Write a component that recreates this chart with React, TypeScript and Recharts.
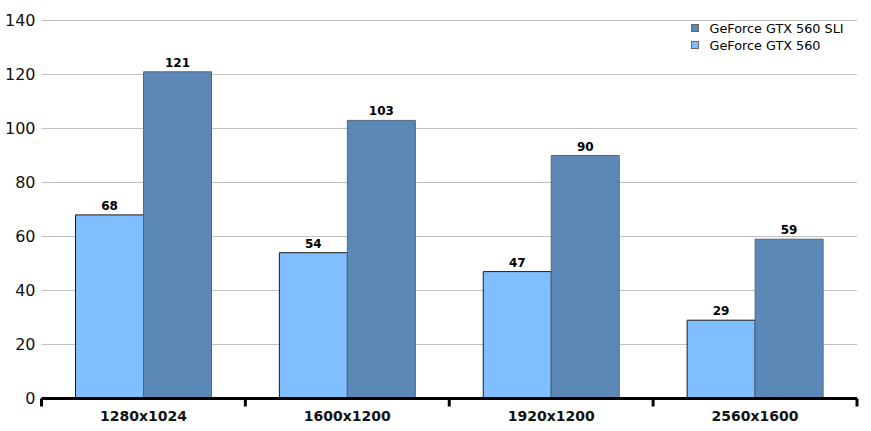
import { Bar, BarChart, CartesianGrid, LabelList, Legend, XAxis, YAxis } from 'recharts';

const categories = ['1280x1024', '1600x1200', '1920x1200', '2560x1600'];
const gtx560 = [68, 54, 47, 29];
const gtx560Sli = [121, 103, 90, 59];
const yTicks = [0, 20, 40, 60, 80, 100, 120, 140];

const FONT = '"DejaVu Sans", Verdana, sans-serif';
const LIGHT = '#80bfff';
const DARK = '#5b88b6';

const data = categories.map((name, i) => ({
  name,
  single: gtx560[i],
  sli: gtx560Sli[i],
}));

function ResolutionTick(props: any) {
  const { x, y, payload, width, visibleTicksCount, index } = props;
  const half = width / (2 * visibleTicksCount);
  const isLast = index === visibleTicksCount - 1;
  return (
    <g>
      <line x1={x - half} x2={x - half} y1={y} y2={y + 8} stroke="#000" strokeWidth={3} />
      {isLast && (
        <line x1={x + half} x2={x + half} y1={y} y2={y + 8} stroke="#000" strokeWidth={3} />
      )}
      <text
        x={x}
        y={y + 22}
        textAnchor="middle"
        fontFamily={FONT}
        fontSize={14}
        fontWeight="bold"
        fill="#111"
      >
        {payload.value}
      </text>
    </g>
  );
}

function SeriesLegend({ payload }: any) {
  const items = [...(payload || [])].reverse();
  return (
    <div style={{ fontFamily: FONT, fontSize: 12.8, color: '#000' }}>
      {items.map((item: any) => (
        <div key={item.value} style={{ display: 'flex', alignItems: 'center', height: 17 }}>
          <span
            style={{
              display: 'inline-block',
              width: 6,
              height: 6,
              marginRight: 11,
              background: item.color,
              border: '1px solid #666',
            }}
          />
          <span>{item.value}</span>
        </div>
      ))}
    </div>
  );
}

export default function App() {
  return (
    <div style={{ position: 'absolute', left: 0, top: 0, background: '#fff' }}>
      <BarChart
        width={871}
        height={431}
        data={data}
        barCategoryGap="16.67%"
        barGap={0}
        margin={{ top: 20.5, right: 14, bottom: 0.5, left: 0 }}
      >
        <CartesianGrid vertical={false} stroke="#c0c0c0" />
        <XAxis
          dataKey="name"
          height={32}
          tickLine={false}
          tickSize={0}
          tickMargin={0}
          axisLine={{ stroke: '#000', strokeWidth: 3 }}
          tick={<ResolutionTick />}
          interval={0}
        />
        <YAxis
          width={41.5}
          domain={[0, 140]}
          ticks={yTicks}
          axisLine={false}
          tickLine={false}
          tickSize={0}
          tickMargin={6}
          tick={{ fontFamily: FONT, fontSize: 16, fill: '#111' }}
        />
        <Legend
          layout="vertical"
          align="center"
          verticalAlign="middle"
          content={<SeriesLegend />}
          wrapperStyle={{ top: 19.5, left: 690.5, width: 'auto' }}
        />
        <Bar
          dataKey="single"
          name="GeForce GTX 560"
          fill={LIGHT}
          stroke="#1a1a1a"
          strokeWidth={1}
          isAnimationActive={false}
        >
          <LabelList
            dataKey="single"
            position="top"
            offset={5}
            style={{ fontFamily: FONT, fontSize: 12, fontWeight: 'bold', fill: '#000' }}
          />
        </Bar>
        <Bar
          dataKey="sli"
          name="GeForce GTX 560 SLI"
          fill={DARK}
          stroke="#55667a"
          strokeWidth={1}
          isAnimationActive={false}
        >
          <LabelList
            dataKey="sli"
            position="top"
            offset={5}
            style={{ fontFamily: FONT, fontSize: 12, fontWeight: 'bold', fill: '#000' }}
          />
        </Bar>
      </BarChart>
    </div>
  );
}
